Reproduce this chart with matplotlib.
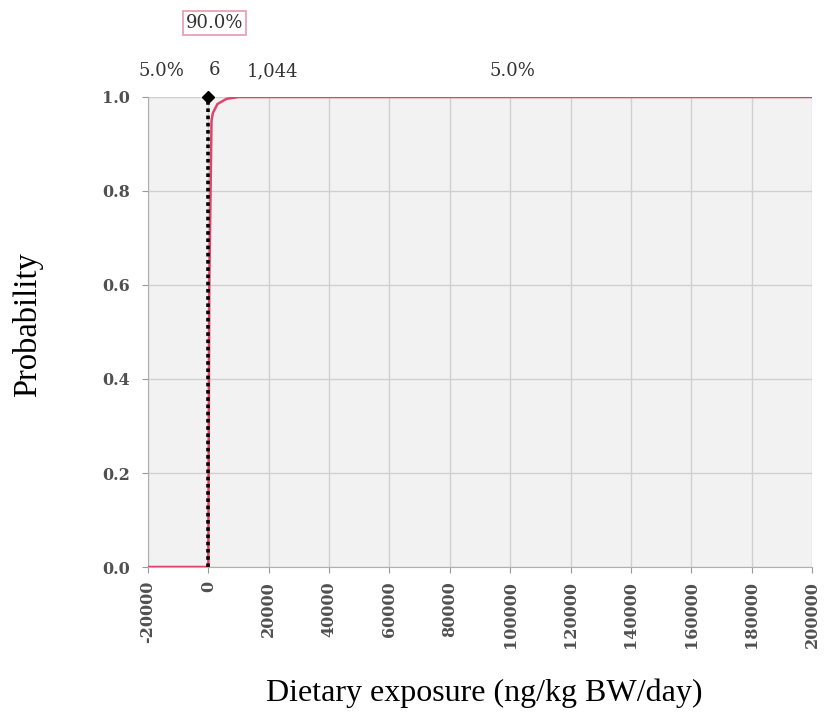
import matplotlib.pyplot as plt
import numpy as np

# cumulative distribution
exposure = [-20000, 0, 0, 6, 300, 1044, 1500, 3000, 6000, 10000, 200000]
prob = [0.0, 0.0, 0.0, 0.05, 0.6, 0.95, 0.966, 0.985, 0.996, 1.0, 1.0]

lower_pct, mid_pct, upper_pct = "5.0%", "90.0%", "5.0%"
lower_val, upper_val = 6, 1044

xticks = np.arange(-20000, 200001, 20000)
yticks = [0.0, 0.2, 0.4, 0.6, 0.8, 1.0]

fig = plt.figure(figsize=(8.25, 7.19), dpi=100)
ax = fig.add_axes([0.1794, 0.2114, 0.8048, 0.6537])
ax.set_facecolor("#f2f2f2")

ax.plot(exposure, prob, color="#e0446a", lw=1.8, zorder=3)
# delimiter line at the 5% value
ax.plot([lower_val, lower_val], [0, 1], color="black", ls=(0, (1, 1)), lw=2.6, zorder=4)
ax.plot([lower_val], [1.0], marker="D", color="black", ms=6, zorder=5, clip_on=False)

ax.set_xlim(-20000, 200000)
ax.set_ylim(0, 1)
tick_font = dict(fontfamily="DejaVu Serif", fontsize=11.5, fontweight="bold", color="#505050")
ax.set_xticks(xticks)
ax.set_xticklabels([str(v) for v in xticks], rotation=90, **tick_font)
ax.set_yticks(yticks)
ax.set_yticklabels([f"{v:.1f}" for v in yticks], **tick_font)
ax.tick_params(axis="y", length=4, color="#999999", pad=9)
ax.tick_params(axis="x", length=4, color="#999999", pad=6)
ax.grid(True, color="#d0d0d0", lw=1)
ax.set_axisbelow(True)
for s in ax.spines.values():
    s.set_visible(False)
ax.spines["left"].set_visible(True)
ax.spines["left"].set_color("#b0b0b0")
ax.spines["bottom"].set_visible(True)
ax.spines["bottom"].set_color("#b0b0b0")

# percentile labels above the plot
tf = dict(fontfamily="DejaVu Serif", fontsize=13, color="#333333", ha="center", va="center")
ax.text(-15500, 1.055, lower_pct, **tf)
ax.text(2000, 1.058, f"{lower_val:,}", **tf)
ax.text(21200, 1.055, f"{upper_val:,}", **tf)
ax.text(100700, 1.055, upper_pct, **tf)
ax.text(2000, 1.157, mid_pct, **tf,
        bbox=dict(boxstyle="square,pad=0.15", fc="white", ec="#e89aae", lw=1.2))

fig.text(0.034, 0.548, "Probability", rotation=90, ha="center", va="center",
         fontfamily="Liberation Serif", fontsize=23.5)
fig.text(0.587, 0.036, "Dietary exposure (ng/kg BW/day)", ha="center", va="center",
         fontfamily="Liberation Serif", fontsize=23)

fig.savefig("out.png", dpi=100)
